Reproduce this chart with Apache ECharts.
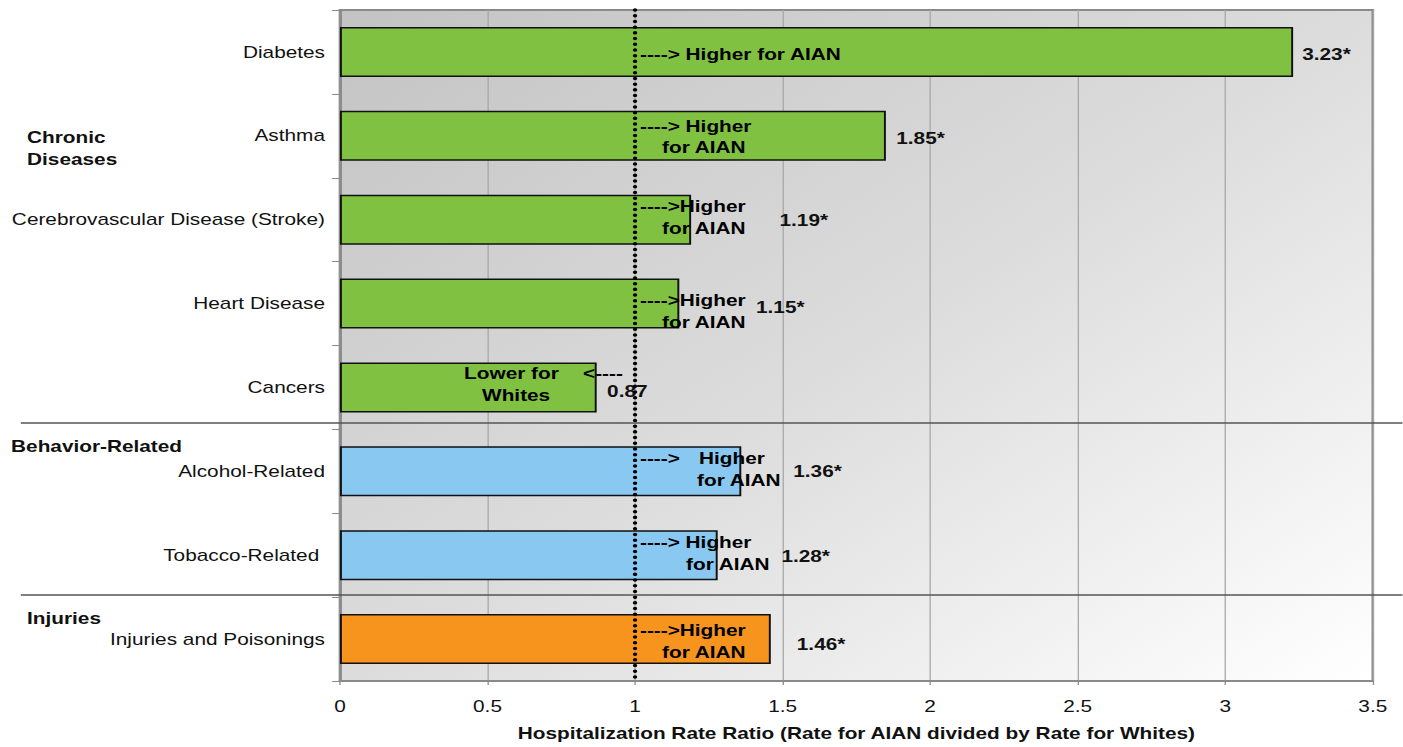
<!DOCTYPE html>
<html>
<head>
<meta charset="utf-8">
<script src="https://cdn.jsdelivr.net/npm/echarts@6/dist/echarts.min.js"></script>
<style>
  html, body { margin: 0; padding: 0; background: #ffffff; overflow: hidden; }
  /* chart is laid out narrower and stretched horizontally to the page width */
  #chart { width: 1079px; height: 747px; transform: scaleX(1.3); transform-origin: 0 0; }
</style>
</head>
<body>
<div id="chart"></div>
<script>
// ---- data ----
const categories = [
  'Diabetes', 'Asthma', 'Cerebrovascular Disease (Stroke)', 'Heart Disease',
  'Cancers', 'Alcohol-Related', 'Tobacco-Related ', 'Injuries and Poisonings'
];
const ratios = [3.23, 1.85, 1.19, 1.15, 0.87, 1.36, 1.28, 1.46];
const significant = [true, true, true, true, false, true, true, true];
const groupOf = ['chronic', 'chronic', 'chronic', 'chronic', 'chronic', 'behavior', 'behavior', 'injury'];
const groupTitles = ['Chronic\nDiseases', 'Behavior-Related', 'Injuries'];
const xTicks = [0, 0.5, 1, 1.5, 2, 2.5, 3, 3.5];
const referenceRatio = 1;
const xTitle = 'Hospitalization Rate Ratio (Rate for AIAN divided by Rate for Whites)';

// direction notes written next to the reference line, one entry per text line
const noteCategory = [
  'Diabetes',
  'Asthma', 'Asthma',
  'Cerebrovascular Disease (Stroke)', 'Cerebrovascular Disease (Stroke)',
  'Heart Disease', 'Heart Disease',
  'Cancers', 'Cancers', 'Cancers',
  'Alcohol-Related', 'Alcohol-Related', 'Alcohol-Related',
  'Tobacco-Related ', 'Tobacco-Related ',
  'Injuries and Poisonings', 'Injuries and Poisonings'
];
const noteText = [
  '----> Higher for AIAN',
  '----> Higher', 'for AIAN',
  '---->Higher', 'for AIAN',
  '---->Higher', 'for AIAN',
  'Lower for', 'Whites', '<----',
  '---->', 'Higher', 'for AIAN',
  '----> Higher', 'for AIAN',
  '---->Higher', 'for AIAN'
];

// ---- styling / layout ----
const groupColors = { chronic: '#80c142', behavior: '#89c8f0', injury: '#f7941d' };
// [dx, dy] of each value label, measured from the bar end
const valueLabelOffset = [[7, 2], [8, 3], [68, 1], [59, 4], [8, 4], [40, 0], [49, 1], [20, 5]];
const noteOffset = [
  [3.8, 2],
  [3.8, -9], [20.8, 12],
  [3.8, -13], [20.8, 9],
  [3.8, -3], [20.8, 19],
  [-131.5, -14], [-117.7, 8], [-40, -14],
  [3.8, -13], [49.2, -13], [47.7, 9],
  [3.8, -13], [39.2, 9],
  [3.8, -9], [20.8, 13]
];
const FONT = '"Liberation Sans", Arial, Helvetica, sans-serif';
const W = 1079;

const barData = ratios.map((v, i) => ({
  value: v,
  itemStyle: { color: groupColors[groupOf[i]] },
  label: {
    show: true,
    position: 'right',
    distance: valueLabelOffset[i][0],
    offset: [0, valueLabelOffset[i][1]],
    formatter: () => v.toFixed(2) + (significant[i] ? '*' : ''),
    fontFamily: FONT, fontSize: 16, fontWeight: 'bold', color: '#111'
  }
}));

const noteData = noteText.map((t, i) => ({
  value: [referenceRatio, noteCategory[i]],
  label: { offset: [noteOffset[i][0], noteOffset[i][1]], formatter: t }
}));

const chart = echarts.init(document.getElementById('chart'), null, { renderer: 'svg' });
chart.setOption({
  animation: false,
  backgroundColor: '#ffffff',
  grid: {
    left: 261.5, right: 23, top: 10, bottom: 66,
    show: true,
    borderColor: '#8a8a8a', borderWidth: 2,
    backgroundColor: new echarts.graphic.LinearGradient(0, 0, 1, 1, [
      { offset: 0, color: '#c3c3c3' },
      { offset: 0.5, color: '#dcdcdc' },
      { offset: 1, color: '#ffffff' }
    ])
  },
  xAxis: {
    type: 'value',
    min: xTicks[0], max: xTicks[xTicks.length - 1], interval: 0.5,
    axisLine: { show: true, lineStyle: { color: '#8a8a8a', width: 2 } },
    axisTick: { show: true, length: 4, lineStyle: { color: '#8a8a8a' } },
    splitLine: { show: true, lineStyle: { color: '#a8a8a8', width: 1 } },
    axisLabel: { fontFamily: FONT, fontSize: 16, color: '#111', margin: 17 },
    name: xTitle,
    nameLocation: 'middle',
    nameGap: 44,
    nameTextStyle: { fontFamily: FONT, fontSize: 16, fontWeight: 'bold', color: '#111' }
  },
  yAxis: {
    type: 'category',
    data: categories,
    inverse: true,
    axisLine: { show: true, lineStyle: { color: '#8a8a8a', width: 2 } },
    axisTick: { show: true, length: 6, lineStyle: { color: '#8a8a8a' } },
    splitLine: { show: false },
    axisLabel: { fontFamily: FONT, fontSize: 16, color: '#111', margin: 11.5 }
  },
  series: [
    {
      type: 'bar',
      data: barData,
      barWidth: 50,
      silent: true,
      itemStyle: { borderColor: '#111', borderWidth: 1.5 },
      markLine: {
        silent: true,
        symbol: ['none', 'none'],
        label: { show: false },
        lineStyle: { color: '#000', width: 3.4, type: [0.1, 5.6], cap: 'round', opacity: 1 },
        data: [{ xAxis: referenceRatio }]
      },
      z: 2
    },
    {
      type: 'scatter',
      data: noteData,
      symbolSize: 0,
      silent: true,
      itemStyle: { opacity: 1 },
      label: {
        show: true,
        position: 'right',
        distance: 0,
        opacity: 1,
        fontFamily: FONT, fontSize: 16, fontWeight: 'bold', color: '#000'
      },
      z: 5
    }
  ],
  graphic: [
    { type: 'line', shape: { x1: 16, y1: 423, x2: W, y2: 423 }, style: { stroke: '#555', lineWidth: 1.5 }, z: 10 },
    { type: 'line', shape: { x1: 16, y1: 595, x2: W, y2: 595 }, style: { stroke: '#555', lineWidth: 1.5 }, z: 10 },
    { type: 'text', left: 20.8, top: 126, style: { text: groupTitles[0], font: 'bold 16px ' + FONT, fill: '#111', lineHeight: 22 } },
    { type: 'text', left: 8.5, top: 438, style: { text: groupTitles[1], font: 'bold 16px ' + FONT, fill: '#111' } },
    { type: 'text', left: 20.8, top: 610, style: { text: groupTitles[2], font: 'bold 16px ' + FONT, fill: '#111' } }
  ]
});
</script>
</body>
</html>
